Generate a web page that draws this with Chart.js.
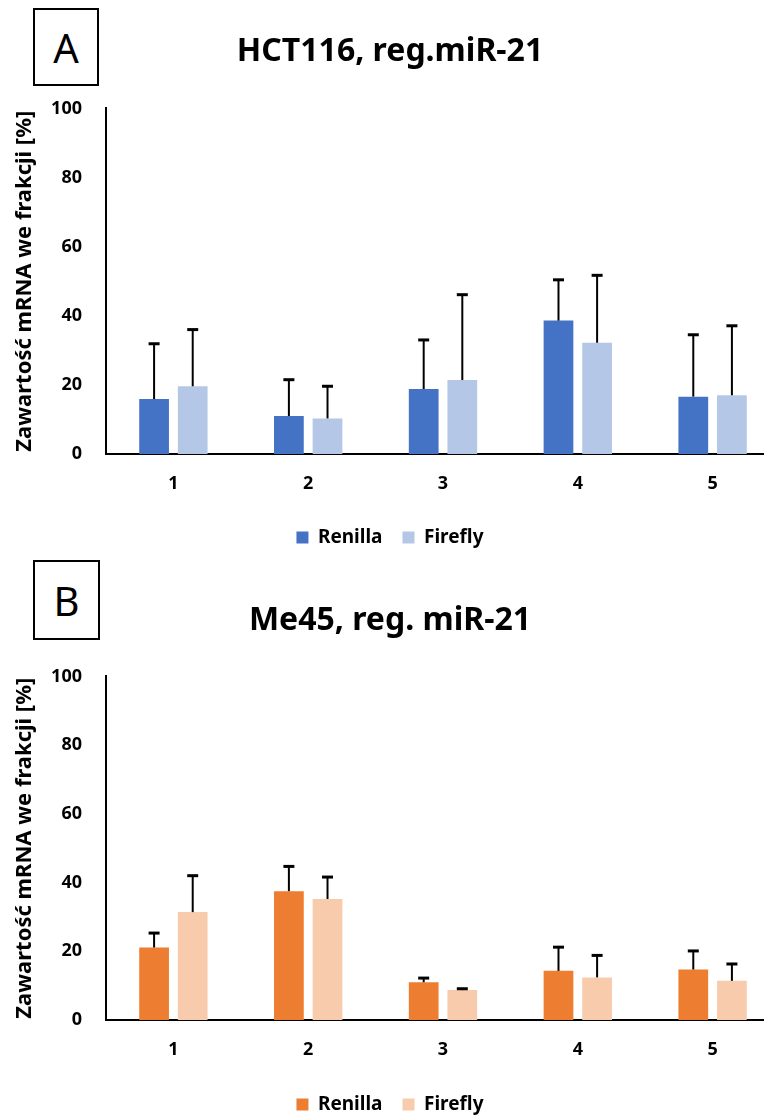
<!DOCTYPE html>
<html>
<head>
<meta charset="utf-8">
<script src="https://cdn.jsdelivr.net/npm/chart.js@4/dist/chart.umd.min.js"></script>
<style>
    body { margin: 0; background: #fff; overflow: hidden; width: 764px; height: 1116px; position: relative; }
    .wykres { position: absolute; left: 0; }
    .litera {
        position: absolute; left: 33px; border: 2px solid #000; box-sizing: border-box;
        font-family: "Noto Sans", sans-serif; font-size: 40px; color: #000;
        display: flex; align-items: center; justify-content: center; background: #fff;
    }
</style>
</head>
<body>
<div class="litera" style="top:8px;width:66px;height:78px;">A</div>
<div class="litera" style="top:560px;width:67px;height:80px;">B</div>
<canvas id="wykresA" class="wykres" style="top:0px;" width="780" height="560"></canvas>
<canvas id="wykresB" class="wykres" style="top:560px;" width="780" height="580"></canvas>
<script>
// Dane
const kategorie = ['1', '2', '3', '4', '5'];
const serie = ['Renilla', 'Firefly'];

// A - HCT116
const renillaA = [15.9, 11.0, 18.8, 38.6, 16.6];
const renillaA_err = [16.0, 10.5, 14.2, 11.8, 17.9];
const fireflyA = [19.6, 10.3, 21.4, 32.2, 17.0];
const fireflyA_err = [16.4, 9.3, 24.7, 19.5, 20.1];

// B - Me45
const renillaB = [21.1, 37.5, 11.0, 14.3, 14.7];
const renillaB_err = [4.2, 7.2, 1.2, 6.9, 5.4];
const fireflyB = [31.4, 35.2, 8.7, 12.4, 11.4];
const fireflyB_err = [10.6, 6.4, 0.4, 6.4, 4.9];

const czcionka = '"Noto Sans", sans-serif';

// Wąsy błędu (tylko w górę, jak w Excelu)
const errorBars = {
    id: 'errorBars',
    afterDatasetsDraw: function (chart) {
        const ctx = chart.ctx;
        const y = chart.scales.y;
        ctx.save();
        ctx.strokeStyle = '#000';
        chart.data.datasets.forEach(function (ds, d) {
            const meta = chart.getDatasetMeta(d);
            meta.data.forEach(function (bar, i) {
                const gora = y.getPixelForValue(ds.data[i] + ds.errors[i]);
                ctx.lineWidth = 2;
                ctx.beginPath();
                ctx.moveTo(bar.x, bar.y);
                ctx.lineTo(bar.x, gora);
                ctx.stroke();
                ctx.lineWidth = 3;
                ctx.beginPath();
                ctx.moveTo(bar.x - 5.5, gora);
                ctx.lineTo(bar.x + 5.5, gora);
                ctx.stroke();
            });
        });
        ctx.restore();
    }
};

function rysujWykres(id, tytul, r, rErr, f, fErr, kolory, tytulPad, osXWys, dolPad) {
    const config = {
        type: 'bar',
        data: {
            labels: kategorie,
            datasets: [
                { label: serie[0], data: r, errors: rErr, backgroundColor: kolory[0],
                  categoryPercentage: 0.573, barPercentage: 0.77 },
                { label: serie[1], data: f, errors: fErr, backgroundColor: kolory[1],
                  categoryPercentage: 0.573, barPercentage: 0.77 }
            ]
        },
        options: {
            responsive: false,
            animation: false,
            layout: { padding: { left: 0, right: 0, top: 0, bottom: dolPad } },
            plugins: {
                title: {
                    display: true,
                    text: tytul,
                    color: '#000',
                    font: { family: czcionka, size: 32, weight: 'bold', lineHeight: 1.2 },
                    padding: tytulPad
                },
                legend: {
                    position: 'bottom',
                    labels: {
                        color: '#000',
                        boxWidth: 12,
                        boxHeight: 12,
                        padding: 20,
                        font: { family: czcionka, size: 19, weight: 'bold' }
                    }
                },
                tooltip: { enabled: false }
            },
            scales: {
                x: {
                    grid: { display: false, drawTicks: false },
                    border: { display: true, color: '#000', width: 2 },
                    ticks: { color: '#000', padding: 19, font: { family: czcionka, size: 18, weight: 'bold' } },
                    afterFit: function (scale) { scale.height = osXWys; }
                },
                y: {
                    min: 0,
                    max: 100,
                    grid: { display: false, drawTicks: false },
                    border: { display: true, color: '#000', width: 2 },
                    ticks: { stepSize: 20, color: '#000', padding: 24, font: { family: czcionka, size: 18, weight: 'bold' } },
                    title: {
                        display: true,
                        text: 'Zawartość mRNA we frakcji [%]',
                        color: '#000',
                        padding: { top: 12, bottom: 0 },
                        font: { family: czcionka, size: 22, weight: 'bold', lineHeight: 1.2 }
                    },
                    afterFit: function (scale) { scale.width = 106; }
                }
            }
        },
        plugins: [errorBars]
    };
    return new Chart(document.getElementById(id), config);
}

rysujWykres('wykresA', 'HCT116, reg.miR-21', renillaA, renillaA_err, fireflyA, fireflyA_err,
    ['#4472C4', '#B4C7E7'], { top: 33, bottom: 37 }, 54, 3);
rysujWykres('wykresB', 'Me45, reg. miR-21', renillaB, renillaB_err, fireflyB, fireflyB_err,
    ['#ED7D31', '#F8CBAD'], { top: 42, bottom: 36 }, 55, 16);
</script>
</body>
</html>
